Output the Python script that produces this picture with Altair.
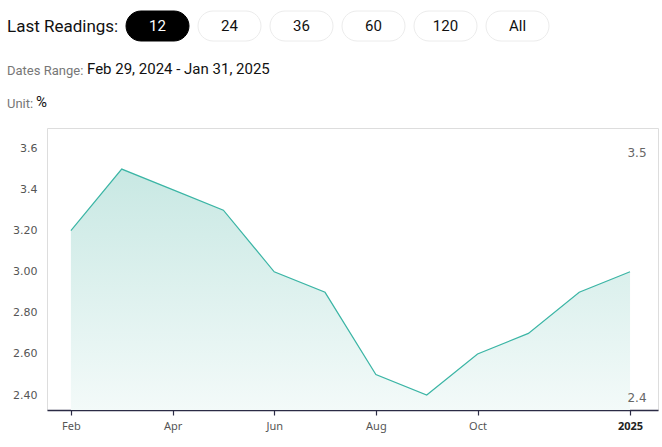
import altair as alt
import pandas as pd

# ---- data ----
months = ["Feb", "Mar", "Apr", "May", "Jun", "Jul", "Aug", "Sep", "Oct", "Nov", "Dec", "Jan"]
values = [3.2, 3.5, 3.4, 3.3, 3.0, 2.9, 2.5, 2.4, 2.6, 2.7, 2.9, 3.0]
tick_idx = [0, 2, 4, 6, 8, 10, 11]
tick_labels = ["Feb", "Apr", "Jun", "Aug", "Oct", "Dec", "2025"]
y_ticks = [2.4, 2.6, 2.8, 3.0, 3.2, 3.4, 3.6]
buttons = ["12", "24", "36", "60", "120", "All"]
selected = "12"

df = pd.DataFrame({"i": list(range(len(values))), "month": months, "value": values})

W, H = 611, 282
PL, PT = 47, 128
XMIN, XMAX = -0.47, 11.55
YMIN, YMAX = 2.327, 3.7

xscale = alt.Scale(domain=[XMIN, XMAX], nice=False, zero=False)
yscale = alt.Scale(domain=[YMIN, YMAX], nice=False, zero=False)

label_map = "{" + ",".join(f"'{i}':'{l}'" for i, l in zip(tick_idx, tick_labels)) + "}"

x_axis = alt.Axis(
    values=[0, 2, 4, 6, 8, 11],
    labelExpr=f"{label_map}[datum.value]",
    title=None,
    grid=False,
    domainColor="#2b2b45",
    domainWidth=1.5,
    tickColor="#2b2b45",
    tickWidth=1.2,
    tickSize=5,
    labelFont="Noto Sans",
    labelFontSize=11,
    labelColor={"expr": "datum.value == 11 ? '#222222' : '#555555'"},
    labelFontWeight={"expr": "datum.value == 11 ? 'bold' : 'normal'"},
    labelPadding=5,
)
y_axis = alt.Axis(
    values=y_ticks,
    labelExpr="datum.value > 3.3 ? format(datum.value, '.1f') : format(datum.value, '.2f')",
    title=None,
    grid=False,
    domain=False,
    ticks=False,
    labelFont="DejaVu Sans",
    labelFontSize=11,
    labelColor="#555555",
    labelPadding=10,
)

area = alt.Chart(df).mark_area(
    color=alt.Gradient(
        gradient="linear",
        stops=[
            alt.GradientStop(color="#c8e8e3", offset=0),
            alt.GradientStop(color="#f3faf9", offset=1),
        ],
        x1=1, x2=1, y1=0, y2=1,
    ),
).encode(
    x=alt.X("i:Q", scale=xscale, axis=x_axis),
    y=alt.Y("value:Q", scale=yscale, axis=y_axis),
    y2=alt.datum(YMIN),
)

line = alt.Chart(df).mark_line(color="#3bb5a5", strokeWidth=1.2).encode(
    x=alt.X("i:Q", scale=xscale),
    y=alt.Y("value:Q", scale=yscale),
)

layers = [area, line]


def text_layer(txt, px, py, size, color, font="Roboto", align="left", weight="normal"):
    return alt.Chart(df.head(1)).mark_text(
        text=txt, font=font, fontSize=size, color=color, align=align,
        baseline="middle", fontWeight=weight,
    ).encode(x=alt.value(px - PL), y=alt.value(py - PT))


# max / min annotations
layers.append(text_layer(f"{max(values):.1f}", 637, 153, 12, "#666666", font="DejaVu Sans", align="center"))
layers.append(text_layer(f"{min(values):.1f}", 637, 398, 12, "#666666", font="DejaVu Sans", align="center"))

# header
layers.append(text_layer("Last Readings:", 7, 27, 17, "#111111"))
for k, b in enumerate(buttons):
    x0 = 126 + 72 * k
    sel = b == selected
    layers.append(
        alt.Chart(df.head(1)).mark_rect(
            cornerRadius=15, strokeWidth=1,
            fill="#000000" if sel else "#ffffff",
            stroke="#000000" if sel else "#ececec",
        ).encode(
            x=alt.value(x0 - PL), x2=alt.value(x0 + 63 - PL),
            y=alt.value(11 - PT), y2=alt.value(41 - PT),
        )
    )
    layers.append(text_layer(b, x0 + 31.5, 26, 15, "#ffffff" if sel else "#111111", align="center"))

layers.append(text_layer("Dates Range:", 7, 71, 13, "#777777"))
layers.append(text_layer("Feb 29, 2024 - Jan 31, 2025", 87, 69, 15, "#111111"))
layers.append(text_layer("Unit:", 7, 104, 13, "#777777"))
layers.append(text_layer("%", 36, 102, 15, "#111111"))

chart = alt.layer(*layers).properties(
    width=W,
    height=H,
    autosize=alt.AutoSizeParams(type="none"),
    padding={"left": PL, "top": PT, "right": 662 - PL - W, "bottom": 447 - PT - H},
).configure_view(stroke="transparent", strokeWidth=0).configure_axisY(
    domainColor="transparent", tickColor="transparent", gridColor="transparent", domainWidth=0
).configure_axisX(
    gridColor="transparent"
).configure(background="#ffffff")

chart.save("out.html", embed_options={"renderer": "svg", "actions": False})
